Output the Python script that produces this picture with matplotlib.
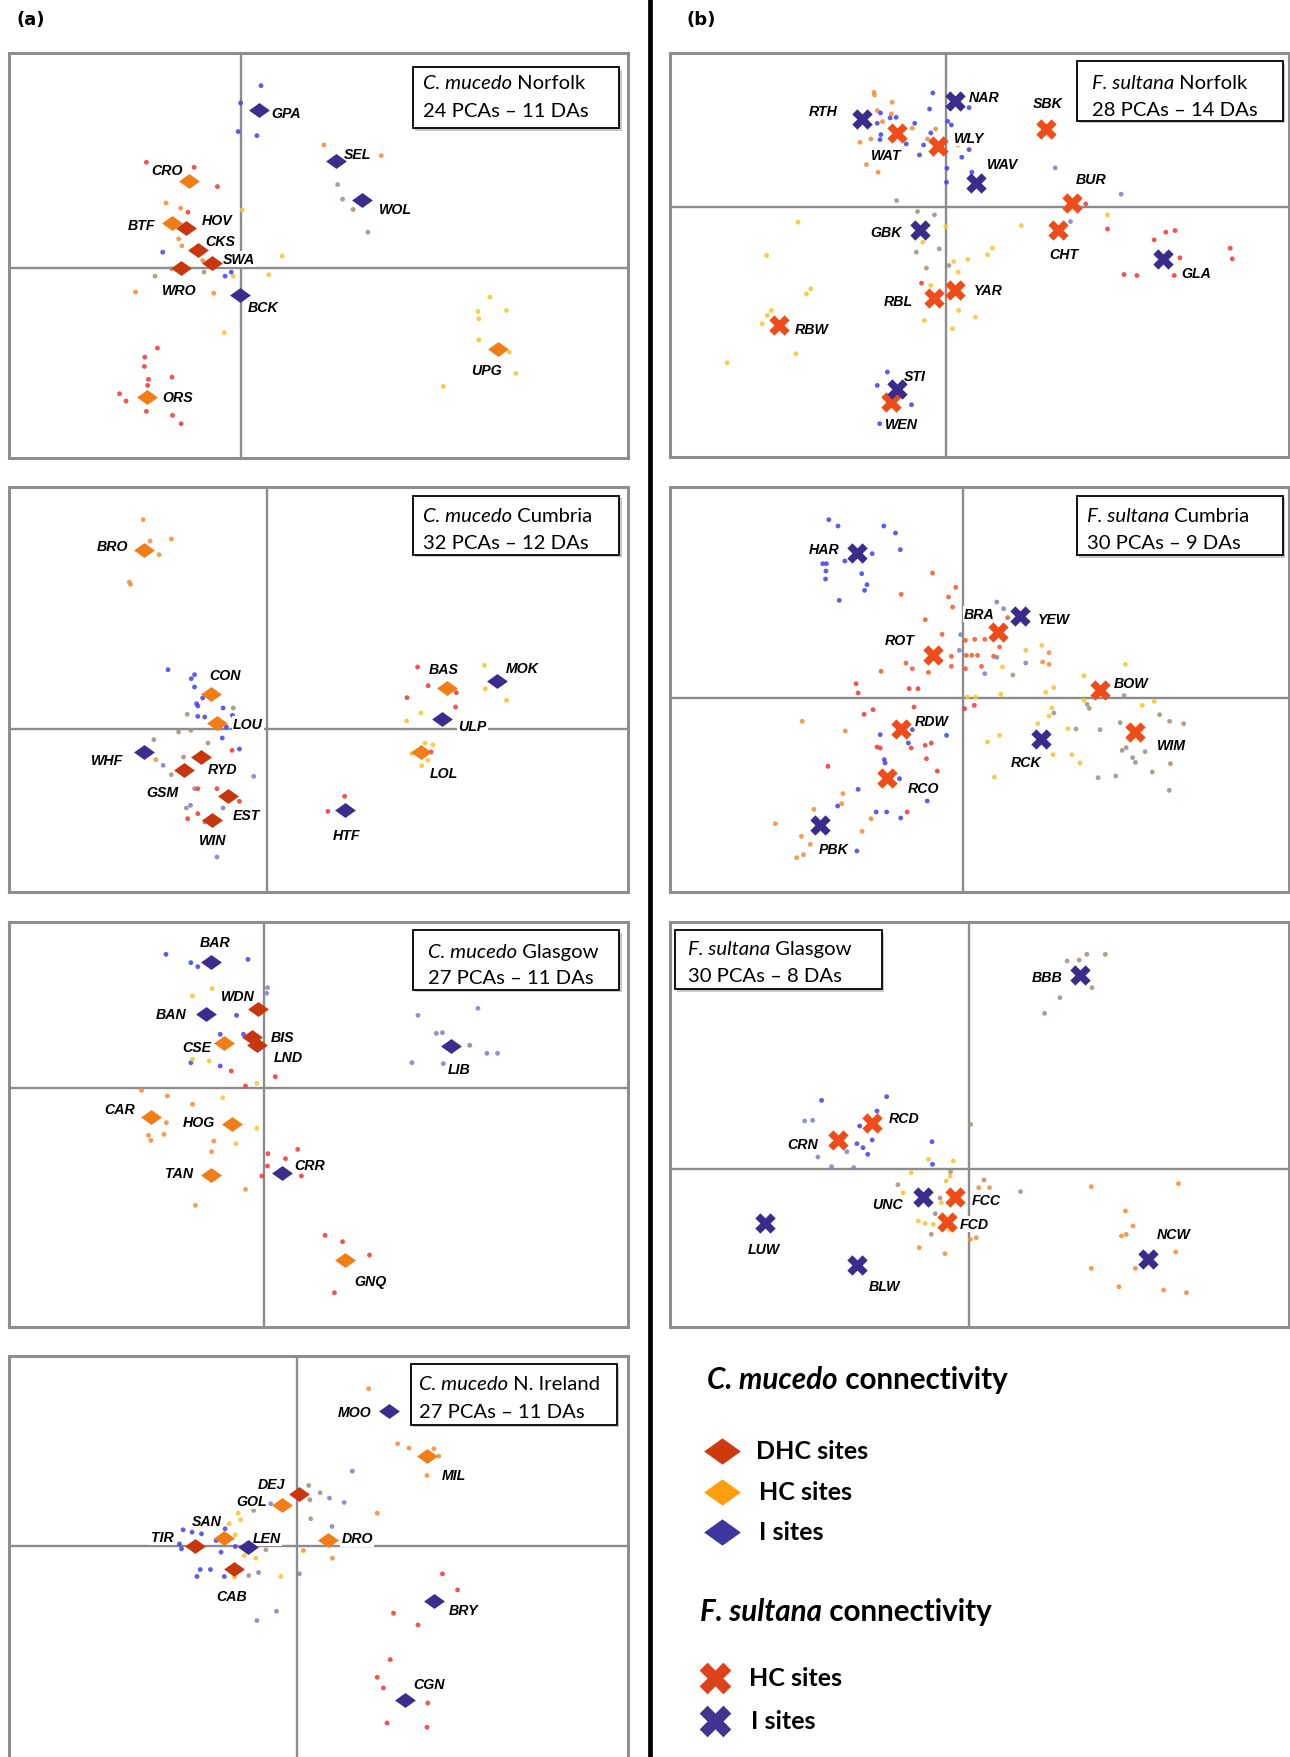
import matplotlib
matplotlib.use('Agg')
import matplotlib.pyplot as plt
from matplotlib.patches import Rectangle
from matplotlib.lines import Line2D

plt.rcParams['font.family'] = ['Lato', 'DejaVu Sans']

# ---------------- DATA ----------------
# C. mucedo Norfolk
cmN_sites = ['GPA', 'SEL', 'WOL', 'CRO', 'BTF', 'HOV', 'CKS', 'SWA', 'WRO', 'BCK', 'UPG', 'ORS']
cmN_types = ['I', 'I', 'I', 'HC', 'HC', 'DHC', 'DHC', 'DHC', 'DHC', 'I', 'HC', 'HC']
cmN_x = [0.42, 2.32, 2.96, -1.28, -1.70, -1.35, -1.07, -0.73, -1.47, -0.03, 6.28, -2.32]
cmN_y = [4.75, 3.20, 2.05, 2.60, 1.34, 1.20, 0.54, 0.14, -0.01, -0.81, -2.43, -3.89]
cmN_dot_x = [0.48, -0.02, -0.08, 0.38, -1.93, -0.40, -0.25, 2.02, 3.43, 2.36, 2.48, 2.74, 3.10,
             -2.33, -1.16, -0.59, -1.31, -1.85, -1.49, -1.54, -1.46, -2.60, -0.68, -0.95,
             0.02, -0.42, 1.00, 0.67, -0.20, -2.12, -0.92, -1.72,
             6.10, 6.50, 5.80, 5.82, 5.82, 6.57, 6.73, 4.95,
             -2.06, -2.37, -2.38, -1.70, -2.28, -2.30, -2.99, -2.83, -2.33, -1.69, -1.48]
cmN_dot_y = [5.47, 4.95, 4.09, 3.97, 0.47, -0.25, -0.13, 3.69, 3.37, 2.50, 2.06, 1.75, 1.07,
             3.17, 3.02, 2.44, 1.67, 1.95, 1.79, 0.87, 0.66, -0.73, -0.76, 0.22,
             1.74, -1.95, 0.35, -0.21, -0.25, -0.25, -0.13, -0.03,
             -0.88, -1.28, -1.31, -1.53, -2.16, -2.53, -3.17, -3.56,
             -2.41, -2.68, -2.96, -3.28, -3.35, -3.53, -3.78, -4.00, -4.31, -4.43, -4.68]
cmN_dot_c = 'bbbbbbb' + 'oo' + 'gggg' + 'rrrr' + 'ooooooo' + 'yyyyy' + 'ggg' + 'yyyyyyyy' + 'rrrrrrrrrrr'

# F. sultana Norfolk
fsN_sites = ['RTH', 'WAT', 'NAR', 'WLY', 'SBK', 'WAV', 'BUR', 'CHT', 'GLA', 'GBK', 'YAR', 'RBL', 'RBW', 'STI', 'WEN']
fsN_types = ['I', 'HC', 'I', 'HC', 'HC', 'I', 'HC', 'HC', 'I', 'I', 'HC', 'HC', 'HC', 'I', 'HC']
fsN_x = [-2.09, -1.24, 0.21, -0.20, 2.46, 0.73, 3.13, 2.78, 5.38, -0.67, 0.21, -0.32, -4.17, -1.22, -1.39]
fsN_y = [2.65, 2.22, 3.18, 1.83, 2.35, 0.73, 0.12, -0.68, -1.55, -0.67, -2.50, -2.73, -3.55, -5.47, -5.85]
fsN_dot_x = [-1.80, -1.79, -1.35, -1.72, -1.37, -1.59, -2.15, -1.88, -0.85, -0.47, -0.27, -1.99, -1.70, 0.28,
             -0.34, -0.42, 0.56, -1.64, -1.40, -1.25, -1.72, -1.63, -1.65, -1.00, -0.79, 0.03, 0.12, -0.39,
             -0.57, -0.67, 0.38, 0.56, 0.01, 0.00, -1.17, 0.63,
             -1.24, -0.72, -0.30, -0.75, -0.18, -0.50, 0.06, 2.70, 4.34, 3.08,
             -3.69, -0.02, -4.47, -0.59, 1.14, 1.02, 0.18, 0.53, 0.29, -3.37, -3.48, -4.35, -4.45, -4.58,
             -0.55, 0.30, 0.72, 0.15, -3.74, -5.45, 1.86, 4.00, -0.39,
             3.46, 4.00, 5.16, 5.45, 5.68, 7.05, 7.10, 5.80, 4.41, 4.73, 5.66, -0.62,
             -1.47, -1.72, -0.87, -1.66]
fsN_dot_y = [3.45, 3.37, 3.15, 2.90, 2.80, 2.57, 1.95, 2.05, 2.37, 2.05, 2.35, 1.28, 1.05, 1.87,
             3.43, 2.95, 2.99, 2.83, 2.68, 2.70, 2.52, 2.18, 2.03, 1.90, 2.52, 2.58, 2.47, 2.23,
             1.87, 1.57, 1.50, 1.73, 1.17, 0.75, 1.40, 1.05,
             0.20, -0.13, -0.23, -1.35, -1.25, -1.83, -1.75, 1.18, 0.39, -0.43,
             -0.45, -0.58, -1.45, -1.05, -1.23, -1.43, -1.63, -1.57, -1.95, -2.45, -2.60, -3.10, -3.25, -3.50,
             -3.40, -3.10, -3.30, -3.65, -4.40, -4.67, -0.55, -0.23, -2.35,
             0.10, -0.65, -0.98, -0.75, -0.70, -1.23, -1.55, -1.52, -2.02, -2.05, -2.05, -2.28,
             -4.95, -5.35, -5.93, -6.50]
fsN_dot_c = 'o' * 14 + 'b' * 22 + 'g' * 7 + 'ppp' + 'y' * 23 + 'r' * 12 + 'bbbb'

# C. mucedo Cumbria
cmC_sites = ['BRO', 'CON', 'LOU', 'WHF', 'RYD', 'GSM', 'EST', 'WIN', 'BAS', 'MOK', 'ULP', 'LOL', 'HTF']
cmC_types = ['HC', 'HC', 'HC', 'I', 'DHC', 'DHC', 'DHC', 'DHC', 'HC', 'I', 'I', 'HC', 'I']
cmC_x = [-3.02, -1.37, -1.22, -3.02, -1.62, -2.02, -0.95, -1.34, 4.43, 5.65, 4.31, 3.78, 1.93]
cmC_y = [5.37, 1.05, 0.19, -0.68, -0.83, -1.21, -2.01, -2.71, 1.24, 1.44, 0.32, -0.68, -2.43]
cmC_dot_x = [-3.03, -2.86, -2.34, -2.64, -3.37, -3.34,
             -2.42, -1.77, -1.85, -1.77, -1.57, -1.72, -1.69, -1.07, -1.69, -1.52, -0.84, -0.99, -1.09, -0.67,
             -0.32, -2.54, -1.22, -1.07, -1.87, -1.52,
             -0.82, -1.95, -2.16, -1.86, -2.77, -1.44, -2.34, -2.04, -1.77, -1.97,
             -0.85, -1.69, -1.22, -0.67, -1.94, -1.69, -2.72,
             3.70, 3.96, 3.44, 4.63, 4.65, 4.03,
             5.34, 5.36, 5.88, 3.78, 3.43, 3.88, 4.08, 3.56, 3.95, 3.80,
             1.91, 1.50]
cmC_dot_y = [6.29, 5.65, 5.71, 5.24, 4.42, 4.35,
             1.79, 1.64, 1.52, 1.27, 0.94, 0.77, 0.70, 0.64, 0.39, 0.37, 0.42, 0.07, -0.26, -0.59,
             -1.41, -1.08, -3.83, -2.36, -2.28, -2.78,
             0.64, 0.45, -0.08, -0.03, -0.31, -0.41, -1.36, -0.83, -1.78, -2.36,
             -0.63, -1.78, -1.78, -2.16, -2.68, -2.53, -0.91,
             1.87, 1.31, 0.95, 0.67, 1.10, -0.68,
             1.92, 1.22, 0.87, 0.49, 0.25, -0.41, -0.46, -0.73, -0.93, -1.09,
             -2.01, -2.46]
cmC_dot_c = 'o' * 6 + 'b' * 14 + 'p' * 6 + 'g' * 10 + 'r' * 6 + 'o' + 'r' * 6 + 'y' * 10 + 'rr'

# F. sultana Cumbria
fsC_sites = ['HAR', 'BRA', 'YEW', 'ROT', 'BOW', 'RDW', 'RCK', 'WIM', 'RCO', 'PBK']
fsC_types = ['I', 'HC', 'I', 'HC', 'HC', 'HC', 'I', 'HC', 'HC', 'I']
fsC_x = [-2.65, 0.85, 1.42, -0.75, 3.40, -1.55, 1.93, 4.27, -1.90, -3.57]
fsC_y = [4.36, 1.98, 2.45, 1.28, 0.25, -0.92, -1.22, -1.02, -2.40, -3.82]
fsC_dot_x = [-3.35, -3.12, -1.98, -1.69, -1.57, -2.27, -2.95, -3.50, -3.41, -3.42, -2.53, -3.43, -2.40, -2.46, -3.09,
             0.83, -0.07, -0.10, 1.55, 0.53, 0.83, -1.27, -2.07, -1.37, -0.42, -1.97, -1.95, -1.59, -2.62,
             -0.90, -3.13, -2.17, -1.91, -1.56, -2.65, 1.00,
             -0.77, -0.19, -1.55, -0.37, -0.27, -0.95, -0.53, -2.05, -1.43, -1.27, -0.87, -0.30, -0.30, 0.05,
             0.28, 0.53, 0.07, 0.21, 0.35, 0.45, 0.05, 0.75, 1.10, 0.90, -2.67, -2.62, -1.35, -1.13, -1.23,
             -2.25, -2.47, 0.03, 0.27, -2.15, -2.07, -1.30, -0.95, -0.80, -0.92, -3.37, -0.65, -1.40,
             2.13, 1.97, 2.13,
             -4.01, -2.94, -3.00, -3.03, -3.72, -2.30, -2.52, -4.03, -3.81, -3.98, -4.15, -4.68,
             1.95, 1.55, 0.97, 0.10, 0.30, 0.93, 2.05, 2.25, 2.20, 2.13, 1.85, 2.60, 0.90, 0.60, 2.23, 2.70,
             2.90, 0.77, 4.03, 3.00, 3.00, 4.45, 4.75,
             1.23, 4.00, 3.08, 3.13, 2.25, 2.80, 3.40, 3.90, 4.88, 5.13, 5.48, 4.05, 3.95, 4.52, 4.21, 4.28,
             5.15, 4.70, 3.79, 3.35, 5.12, 1.93]
fsC_dot_y = [5.35, 5.16, 5.16, 4.95, 4.45, 4.33, 4.11, 4.03, 4.03, 3.81, 3.73, 3.57, 3.40, 3.23, 2.93,
             2.88, 1.90, 1.43, 1.05, 0.73, 1.22, -0.95, -1.10, -1.35, -1.12, -1.85, -1.95, -2.42, -2.74,
             -3.09, -3.24, -3.42, -3.42, -3.60, -4.59, 2.68,
             3.75, 3.32, 3.11, 3.03, 2.73, 2.35, 1.91, 0.80, 1.05, 0.88, 0.77, 1.25, 0.95, 1.73,
             1.76, 1.76, 1.28, 1.28, 1.28, 0.95, 0.88, 1.25, 2.41, 1.53, 0.43, 0.15, 0.28, 0.28, -0.27,
             -0.35, -0.49, -0.32, -0.22, -1.47, -1.50, -1.50, -1.42, -1.35, -1.82, -2.05, -2.19, -3.42,
             1.36, 1.08, 1.01,
             -0.70, -0.99, -2.87, -3.17, -3.34, -3.62, -4.00, -4.15, -4.39, -4.70, -4.79, -3.77,
             1.58, 1.43, 0.93, 0.03, 0.03, 0.11, 0.17, 0.31, -0.30, -0.54, -0.77, -0.92, -1.12, -1.32, -1.70,
             -1.70, -1.95, -2.37, 1.01, 0.67, -0.07, -0.22, -0.10,
             0.69, 0.07, -0.19, -0.31, -0.45, -0.93, -0.95, -0.74, -0.50, -0.70, -0.77, -1.49, -1.57, -1.61,
             -1.79, -1.93, -1.97, -2.22, -2.34, -2.39, -2.77, -1.25]
fsC_dot_c = 'b' * 15 + 'pppppp' + 'b' * 14 + 'p' + 'R' * 24 + 'r' * 18 + 'ooo' + 'o' * 12 + 'y' * 23 + 'g' * 22

# C. mucedo Glasgow
cmG_sites = ['BAR', 'WDN', 'BAN', 'BIS', 'LND', 'CSE', 'LIB', 'CAR', 'HOG', 'TAN', 'CRR', 'GNQ']
cmG_types = ['I', 'DHC', 'I', 'DHC', 'DHC', 'HC', 'I', 'HC', 'HC', 'HC', 'I', 'HC']
cmG_x = [-1.30, -0.15, -1.43, -0.30, -0.17, -0.98, 4.58, -2.77, -0.78, -1.30, 0.45, 2.00]
cmG_y = [3.79, 2.37, 2.22, 1.54, 1.29, 1.35, 1.27, -0.86, -1.06, -2.60, -2.53, -5.16]
cmG_dot_x = [-2.40, -1.79, -1.62, -0.39, -0.67, -1.07, -0.50, -1.79, -1.07, 0.09, 0.07,
             3.78, 5.25, 4.23, 4.38, 5.05, 5.47, 5.73, 3.63, 4.40,
             -1.27, -1.75, -1.75, -1.34, -0.17, -1.01, -0.17, -0.68,
             -0.80, -0.45, 0.28, 0.10, 0.83, 0.53, 0.09, 0.92, -0.05,
             -3.00, -2.37, -1.75, -2.39, -2.83, -2.77, -2.45, -1.23, -1.28, -0.45, -1.68,
             1.50, 1.93, 2.59, 1.73]
cmG_dot_y = [4.02, 3.77, 3.65, 3.87, 2.19, 1.62, 1.62, 0.77, 0.67, 3.02, 2.85,
             2.19, 2.40, 1.65, 1.67, 1.29, 1.05, 1.05, 0.77, 0.74,
             2.99, 2.77, 0.87, 0.82, 0.15, -0.28, -1.20, -1.66,
             0.52, 0.07, 0.35, -1.96, -1.83, -2.11, -2.33, -2.63, -2.63,
             -0.06, -0.23, -0.48, -1.03, -1.41, -1.56, -1.38, -1.58, -1.90, -3.03, -3.51,
             -4.41, -4.60, -5.00, -6.13]
cmG_dot_c = 'b' * 9 + 'pp' + 'p' * 9 + 'y' * 8 + 'r' * 9 + 'o' * 11 + 'rrrr'

# F. sultana Glasgow
fsG_sites = ['BBB', 'RCD', 'CRN', 'UNC', 'FCC', 'FCD', 'LUW', 'BLW', 'NCW']
fsG_types = ['I', 'HC', 'HC', 'I', 'HC', 'HC', 'I', 'I', 'I']
fsG_x = [2.75, -2.43, -3.27, -1.15, -0.35, -0.55, -5.08, -2.80, 4.43]
fsG_y = [5.82, 1.40, 0.87, -0.82, -0.82, -1.58, -1.60, -2.88, -2.70]
fsG_dot_x = [2.43, 2.73, 2.92, 3.38, 3.05, 2.25, 1.87,
             -3.68, -2.06, -4.10, -3.90, -2.30, -2.73, -2.42, -2.80, -2.65, -3.05, -2.53, -3.77, -3.43,
             -2.88, -0.93, -0.92,
             0.03, -0.47, 0.36, 1.27, -1.78, -0.85, -0.73, -0.95,
             -1.45, -1.02, -0.40, -0.48, -0.58, -1.65, -0.70, -1.27, -1.10, -0.90, -0.48,
             0.23, 0.50, 0.02, 0.17, -1.25, -0.61,
             3.03, 5.20, 3.88, 4.07, 3.78, 3.90, 5.13, 3.03, 4.13, 3.72, 4.83, 5.40]
fsG_dot_y = [6.25, 6.28, 6.45, 6.45, 5.45, 5.15, 4.68,
             2.07, 2.18, 1.45, 1.47, 1.75, 1.30, 0.88, 0.77, 0.65, 0.53, 0.45, 0.37, 0.08,
             0.05, 0.83, 0.15,
             1.35, -0.07, -0.32, -0.67, -0.46, -1.33, -0.86, -1.95,
             -0.10, 0.30, 0.25, -0.20, -0.35, -0.70, -1.00, -1.55, -1.62, -1.65, -1.82,
             -0.55, -0.55, -2.10, -2.05, -2.35, -2.53,
             -0.52, -0.43, -1.25, -1.70, -2.00, -1.95, -2.48, -2.97, -2.97, -3.52, -3.62, -3.70]
fsG_dot_c = 'g' * 7 + 'bbppbbbbbpbpppbb' + 'g' * 8 + 'y' * 11 + 'o' * 6 + 'o' * 12

# C. mucedo N. Ireland
cmI_sites = ['MOO', 'MIL', 'DEJ', 'GOL', 'SAN', 'TIR', 'LEN', 'DRO', 'CAB', 'BRY', 'CGN']
cmI_types = ['I', 'HC', 'DHC', 'HC', 'HC', 'DHC', 'I', 'HC', 'DHC', 'I', 'I']
cmI_x = [2.25, 3.18, 0.04, -0.37, -1.79, -2.52, -1.22, 0.76, -1.55, 3.35, 2.63]
cmI_y = [4.06, 2.71, 1.56, 1.25, 0.26, 0.01, -0.02, 0.18, -0.67, -1.62, -4.59]
cmI_dot_x = [1.75, 2.46, 2.74, 3.35, 3.47, 3.18, 1.96, 0.15, 0.86,
             1.35, 0.79, 1.15, 0.85, -2.80, -2.58, -2.35, -2.89, -2.84, -1.99, -1.77, -1.87, -1.52, -2.38,
             -2.13, -2.46, -1.79, -0.95, 0.05, -0.51, -0.99, -0.65,
             0.28, 0.56, 0.31, 0.33, -1.07, -0.77, -1.19,
             -1.45, -1.39, -1.67, -1.52, -1.02, -1.30, -0.40, -1.54,
             3.56, 3.93, 2.36, 2.96, 2.28, 1.96, 2.11, 3.20, 2.20, 3.18]
cmI_dot_y = [4.73, 3.08, 2.95, 2.93, 2.71, 2.13, 1.00, -0.12, -0.35,
             2.26, 1.45, 1.32, 0.60, 0.50, 0.43, 0.38, 0.08, -0.07, 0.18, 0.53, -0.17, 0.00, -0.69,
             -0.69, -0.90, -0.90, -0.78, -0.82, -1.94, -2.22, 1.28,
             1.83, 1.61, 1.40, 0.83, 1.08, -0.10, -0.87,
             1.00, 0.80, 0.68, 0.35, -0.35, -0.27, -0.90, -0.92,
             -0.82, -1.30, -2.00, -2.35, -3.39, -3.92, -4.24, -4.69, -5.29, -5.42]
cmI_dot_c = 'o' * 9 + 'pppp' + 'b' * 13 + 'ppppp' + 'g' * 7 + 'y' * 8 + 'r' * 10

# ---------------- STYLE / LAYOUT ----------------
DOT = {'r': '#f04040', 'R': '#f26232', 'o': '#f5903e', 'y': '#f6c737', 'b': '#4a4aee',
       'g': '#a39685', 'p': '#8785c4'}
DIAMOND_COL = {'DHC': '#c8360e', 'HC': '#f07d16', 'I': '#3c2c8e'}
X_COL = {'HC': '#ef4c19', 'I': '#3b2c8c'}
DIAMOND = [(-1.4, 0), (0, 1), (1.4, 0), (0, -1)]
LAB_FONT = ['Liberation Sans', 'DejaVu Sans']

W, H = 1290, 1758
fig = plt.figure(figsize=(W / 100, H / 100), dpi=100)


def frac_rect(x0, y0, x1, y1):
    return [x0 / W, 1 - y1 / H, (x1 - x0) / W, (y1 - y0) / H]


panels = [
    dict(rect=frac_rect(9, 54, 628, 459), xlim=(-5.70, 9.48), ylim=(-5.71, 6.45),
         sites=cmN_sites, types=cmN_types, x=cmN_x, y=cmN_y,
         dx=cmN_dot_x, dy=cmN_dot_y, dc=cmN_dot_c, kind='D',
         sp='C. mucedo', reg='Norfolk', stats='24 PCAs – 11 DAs',
         box=(0.652, 0.814, 0.986, 0.965), tx=0.669, ly=(0.926, 0.858),
         off={'GPA': (28, -3), 'SEL': (21, 7), 'WOL': (33, -9), 'CRO': (-22, 11), 'BTF': (-31, -2),
              'HOV': (31, 8), 'CKS': (22, 9), 'SWA': (27, 4), 'WRO': (-2, -22), 'BCK': (23, -12),
              'UPG': (-11, -21), 'ORS': (31, 0)}),
    dict(rect=frac_rect(670, 54, 1289, 458), xlim=(-6.87, 8.51), ylim=(-7.50, 4.63),
         sites=fsN_sites, types=fsN_types, x=fsN_x, y=fsN_y,
         dx=fsN_dot_x, dy=fsN_dot_y, dc=fsN_dot_c, kind='X',
         sp='F. sultana', reg='Norfolk', stats='28 PCAs – 14 DAs',
         box=(0.657, 0.832, 0.990, 0.979), tx=0.681, ly=(0.927, 0.861),
         off={'RTH': (-39, 8), 'WAT': (-10, -22), 'NAR': (29, 4), 'WLY': (31, 8), 'SBK': (2, 26),
              'WAV': (27, 19), 'BUR': (19, 24), 'CHT': (5, -24), 'GLA': (33, -14), 'GBK': (-33, -2),
              'YAR': (33, 0), 'RBL': (-35, -3), 'RBW': (33, -4), 'STI': (17, 13), 'WEN': (11, -22)}),
    dict(rect=frac_rect(9, 488, 628, 893), xlim=(-6.32, 8.86), ylim=(-4.88, 7.27),
         sites=cmC_sites, types=cmC_types, x=cmC_x, y=cmC_y,
         dx=cmC_dot_x, dy=cmC_dot_y, dc=cmC_dot_c, kind='D',
         sp='C. mucedo', reg='Cumbria', stats='32 PCAs – 12 DAs',
         box=(0.652, 0.833, 0.986, 0.979), tx=0.669, ly=(0.930, 0.864),
         off={'BRO': (-31, 4), 'CON': (14, 19), 'LOU': (31, -1), 'WHF': (-36, -8), 'RYD': (22, -12),
              'GSM': (-22, -22), 'EST': (18, -19), 'WIN': (1, -20), 'BAS': (-4, 19), 'MOK': (25, 13),
              'ULP': (30, -7), 'LOL': (23, -21), 'HTF': (1, -25)}),
    dict(rect=frac_rect(670, 488, 1289, 893), xlim=(-7.30, 8.10), ylim=(-5.82, 6.33),
         sites=fsC_sites, types=fsC_types, x=fsC_x, y=fsC_y,
         dx=fsC_dot_x, dy=fsC_dot_y, dc=fsC_dot_c, kind='X',
         sp='F. sultana', reg='Cumbria', stats='30 PCAs – 9 DAs',
         box=(0.657, 0.831, 0.990, 0.979), tx=0.674, ly=(0.930, 0.864),
         off={'HAR': (-33, 4), 'BRA': (-18, 18), 'YEW': (33, -3), 'ROT': (-34, 15), 'BOW': (31, 7),
              'RDW': (31, 8), 'RCK': (-15, -23), 'WIM': (36, -13), 'RCO': (36, -10), 'PBK': (14, -24)}),
    dict(rect=frac_rect(9, 923, 628, 1328), xlim=(-6.25, 8.93), ylim=(-7.16, 4.99),
         sites=cmG_sites, types=cmG_types, x=cmG_x, y=cmG_y,
         dx=cmG_dot_x, dy=cmG_dot_y, dc=cmG_dot_c, kind='D',
         sp='C. mucedo', reg='Glasgow', stats='27 PCAs – 11 DAs',
         box=(0.652, 0.832, 0.986, 0.980), tx=0.677, ly=(0.928, 0.863),
         off={'BAR': (4, 20), 'WDN': (-20, 13), 'BAN': (-34, 0), 'BIS': (31, 0), 'LND': (31, -12),
              'CSE': (-27, -4), 'LIB': (9, -23), 'CAR': (-31, 8), 'HOG': (-33, 2), 'TAN': (-32, 2),
              'CRR': (27, 8), 'GNQ': (25, -21)}),
    dict(rect=frac_rect(670, 923, 1289, 1328), xlim=(-7.45, 7.95), ylim=(-4.73, 7.42),
         sites=fsG_sites, types=fsG_types, x=fsG_x, y=fsG_y,
         dx=fsG_dot_x, dy=fsG_dot_y, dc=fsG_dot_c, kind='X',
         sp='F. sultana', reg='Glasgow', stats='30 PCAs – 8 DAs',
         box=(0.008, 0.834, 0.342, 0.980), tx=0.029, ly=(0.934, 0.867),
         off={'BBB': (-33, -2), 'RCD': (32, 5), 'CRN': (-35, -4), 'UNC': (-36, -7), 'FCC': (31, -3),
              'FCD': (27, -2), 'LUW': (-1, -26), 'BLW': (28, -21), 'NCW': (26, 25)}),
    dict(rect=frac_rect(9, 1357, 628, 1758), xlim=(-7.07, 8.11), ylim=(-6.31, 5.71),
         sites=cmI_sites, types=cmI_types, x=cmI_x, y=cmI_y,
         dx=cmI_dot_x, dy=cmI_dot_y, dc=cmI_dot_c, kind='D',
         sp='C. mucedo', reg='N. Ireland', stats='27 PCAs – 11 DAs',
         box=(0.649, 0.829, 0.982, 0.979), tx=0.662, ly=(0.931, 0.862), nobottom=True,
         off={'MOO': (-34, -1), 'MIL': (27, -19), 'DEJ': (-27, 10), 'GOL': (-31, 4), 'SAN': (-18, 17),
              'TIR': (-32, 9), 'LEN': (19, 9), 'DRO': (29, 2), 'CAB': (-2, -27), 'BRY': (30, -9),
              'CGN': (25, 16)}),
]

BOX_FS = 14.6
LAB_FS = 10.2

for p in panels:
    ax = fig.add_axes(p['rect'])
    ax.set_xlim(p['xlim'])
    ax.set_ylim(p['ylim'])
    ax.set_xticks([])
    ax.set_yticks([])
    for name, s in ax.spines.items():
        s.set_color('#8e8e8e')
        s.set_linewidth(2.2)
    if p.get('nobottom'):
        ax.spines['bottom'].set_visible(False)
    ax.axvline(0, color='#8c8c8c', lw=1.7, zorder=1)
    ax.axhline(0, color='#8c8c8c', lw=1.7, zorder=1)
    ax.scatter(p['dx'], p['dy'], s=12, c=[DOT[c] for c in p['dc']], linewidths=0, zorder=2, alpha=0.9)
    for name, x, y in zip(p['sites'], p['x'], p['y']):
        ax.annotate(name, (x, y), xytext=p['off'][name], textcoords='offset pixels',
                    ha='center', va='center', fontsize=LAB_FS, fontweight='bold', fontstyle='italic',
                    family=LAB_FONT,
                    bbox=dict(boxstyle='square,pad=0.08', fc='white', ec='none'), zorder=3)
    for t in sorted(set(p['types'])):
        xs = [x for x, tt in zip(p['x'], p['types']) if tt == t]
        ys = [y for y, tt in zip(p['y'], p['types']) if tt == t]
        if p['kind'] == 'D':
            ax.scatter(xs, ys, marker=DIAMOND, s=225, c=DIAMOND_COL[t], linewidths=0, zorder=4)
        else:
            ax.scatter(xs, ys, marker='X', s=215, c=X_COL[t], linewidths=0, zorder=4)
    bx0, by0, bx1, by1 = p['box']
    ax.add_patch(Rectangle((bx0 + 0.004, by0 - 0.006), bx1 - bx0, by1 - by0, transform=ax.transAxes,
                           fc='#c8c8c8', ec='none', zorder=5, clip_on=False))
    ax.add_patch(Rectangle((bx0, by0), bx1 - bx0, by1 - by0, transform=ax.transAxes,
                           fc='white', ec='black', lw=1.3, zorder=6, clip_on=False))
    t1 = ax.text(p['tx'], p['ly'][0], p['sp'], transform=ax.transAxes, fontsize=BOX_FS,
                 fontstyle='italic', ha='left', va='center', zorder=7)
    ax.annotate(' ' + p['reg'], xy=(1, 0), xycoords=t1, ha='left', va='bottom',
                fontsize=BOX_FS, zorder=7)
    ax.text(p['tx'], p['ly'][1], p['stats'], transform=ax.transAxes, fontsize=BOX_FS,
            ha='left', va='center', zorder=7)

# ---------------- overlay: divider, panel letters, legend ----------------
ov = fig.add_axes([0, 0, 1, 1])
ov.set_xlim(0, W)
ov.set_ylim(H, 0)
ov.axis('off')
ov.patch.set_visible(False)
ov.add_line(Line2D([650, 650], [2, H], color='black', lw=3.4))
ov.text(31, 20, '(a)', fontsize=13, fontweight='bold', ha='center', va='center',
        family=['Liberation Sans Narrow', 'DejaVu Sans'])
ov.text(701, 20, '(b)', fontsize=13, fontweight='bold', ha='center', va='center',
        family=['Liberation Sans Narrow', 'DejaVu Sans'])

TITLE_FS = 21.3
ITEM_FS = 18
t = ov.text(707, 1380, 'C. mucedo', fontsize=TITLE_FS, fontweight='bold', fontstyle='italic',
            ha='left', va='center')
ov.annotate(' connectivity', xy=(1, 0), xycoords=t, ha='left', va='bottom',
            fontsize=TITLE_FS, fontweight='bold')
t = ov.text(700, 1612, 'F. sultana', fontsize=TITLE_FS, fontweight='bold', fontstyle='italic',
            ha='left', va='center')
ov.annotate(' connectivity', xy=(1, 0), xycoords=t, ha='left', va='bottom',
            fontsize=TITLE_FS, fontweight='bold')

leg_d = [('DHC sites', '#cc3a0e', 1452, 756), ('HC sites', '#ff9e0d', 1493, 759), ('I sites', '#3d35a0', 1533, 759)]
for lab, col, yy, tx in leg_d:
    ov.scatter([722], [yy], marker=DIAMOND, s=700, c=col, linewidths=0)
    ov.text(tx, yy, lab, fontsize=ITEM_FS, fontweight='bold', ha='left', va='center')
leg_x = [('HC sites', '#dc421c', 1679, 749), ('I sites', '#433493', 1722, 751)]
for lab, col, yy, tx in leg_x:
    ov.scatter([715], [yy], marker='X', s=520, c=col, linewidths=0)
    ov.text(tx, yy, lab, fontsize=ITEM_FS, fontweight='bold', ha='left', va='center')

fig.savefig('out.png', dpi=100)
